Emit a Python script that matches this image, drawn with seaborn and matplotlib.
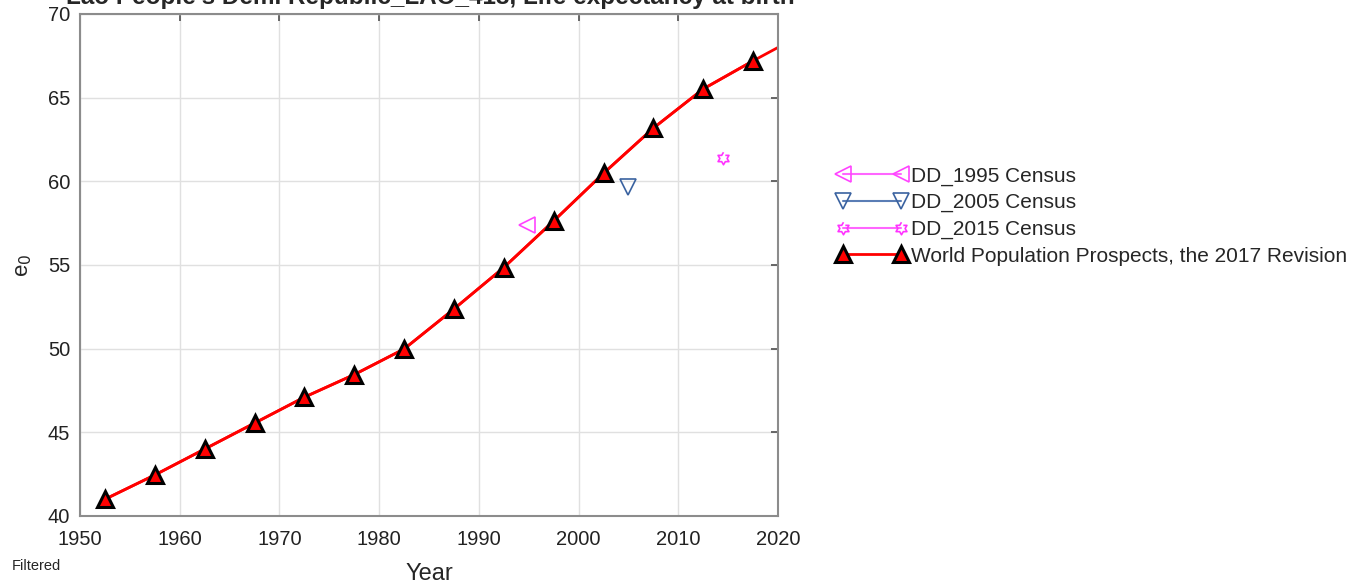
import matplotlib
matplotlib.use("Agg")
import matplotlib.pyplot as plt
import seaborn as sns
import pandas as pd
import numpy as np

# WPP 2017 five-year estimates (mid-period)
wpp_years = [1952.5, 1957.5, 1962.5, 1967.5, 1972.5, 1977.5, 1982.5,
             1987.5, 1992.5, 1997.5, 2002.5, 2007.5, 2012.5, 2017.5]
wpp_e0 = [41.0, 42.45, 44.0, 45.55, 47.1, 48.45, 49.98,
          52.37, 54.85, 57.63, 60.48, 63.18, 65.52, 67.2]
# line continues past the last marker (clipped at 2020)
wpp_line_years = wpp_years + [2022.5]
wpp_line_e0 = wpp_e0 + [68.8]

dd1995_year = [1994.8]
dd1995_e0 = [57.4]
dd2005_year = [2005.0]
dd2005_e0 = [59.67]
dd2015_year = [2014.5]
dd2015_e0 = [61.4]

x_ticks = [1950, 1960, 1970, 1980, 1990, 2000, 2010, 2020]
y_ticks = [40, 45, 50, 55, 60, 65, 70]

sns.set_theme(style="white")
plt.rcParams['font.family'] = ['Liberation Sans', 'DejaVu Sans']

fig = plt.figure(figsize=(13.61, 5.84), dpi=100)
ax = fig.add_axes([80 / 1361, 1 - 516 / 584, 698 / 1361, 502 / 584])

# hexagram marker
ang = np.pi / 2 + np.arange(12) * np.pi / 6
rad = np.where(np.arange(12) % 2 == 0, 1.0, 0.58)
hexagram = list(zip(rad * np.cos(ang), rad * np.sin(ang)))

df95 = pd.DataFrame({'year': dd1995_year, 'e0': dd1995_e0})
df05 = pd.DataFrame({'year': dd2005_year, 'e0': dd2005_e0})
df15 = pd.DataFrame({'year': dd2015_year, 'e0': dd2015_e0})

sns.lineplot(data=df95, x='year', y='e0', ax=ax, color='#ff66ff', marker='<',
             markersize=12, markerfacecolor='none', markeredgecolor='#ff44ff',
             markeredgewidth=1.2, linewidth=1.5, label='DD_1995 Census')
sns.lineplot(data=df05, x='year', y='e0', ax=ax, color='#5a7db5', marker='v',
             markersize=12, markerfacecolor='none', markeredgecolor='#3a62a0',
             markeredgewidth=1.2, linewidth=1.5, label='DD_2005 Census')
sns.lineplot(data=df15, x='year', y='e0', ax=ax, color='#ff66ff', marker=hexagram,
             markersize=9, markerfacecolor='none', markeredgecolor='#ff33ff',
             markeredgewidth=1.2, linewidth=1.5, label='DD_2015 Census')

# WPP curve and markers
sns.lineplot(x=wpp_line_years, y=wpp_line_e0, ax=ax, color='red', linewidth=2,
             label='_nolegend_')
ax.plot(wpp_years, wpp_e0, color='red', linewidth=2, marker='^', markersize=11,
        markerfacecolor='red', markeredgecolor='black', markeredgewidth=2.2,
        label='World Population Prospects, the 2017 Revision')

ax.set_xlim(1950, 2020)
ax.set_ylim(40, 70)
ax.set_xticks(x_ticks)
ax.set_yticks(y_ticks)
ax.tick_params(axis='both', labelsize=14.5, direction='in', length=5,
               color='#555555', top=True, right=True, labelcolor='#222222')
ax.tick_params(axis='x', pad=10)
ax.tick_params(axis='y', pad=7)
ax.grid(True, color='#e0e0e0', linewidth=1)
for s in ax.spines.values():
    s.set_color('#8c8c8c')
    s.set_linewidth(1.5)

ax.set_xlabel('Year', fontsize=17, labelpad=10)
ax.set_ylabel('e$_0$', fontsize=16, labelpad=10)

fig.text(430 / 1361, 1 - 4 / 584, "Lao People's Dem. Republic_LAO_418, Life expectancy at birth",
         ha='center', va='baseline', fontsize=17.5, fontweight='bold')
fig.text(12 / 1361, 1 - 566 / 584, 'Filtered', fontsize=10.5, va='center')

ax.legend(loc='upper left', bbox_to_anchor=(826 / 1361, 1 - 156 / 584),
          bbox_transform=fig.transFigure, frameon=False, numpoints=2,
          handlelength=3.4, handletextpad=0.2, labelspacing=0.36, borderpad=0,
          fontsize=15)

fig.savefig('out.png', dpi=100)
